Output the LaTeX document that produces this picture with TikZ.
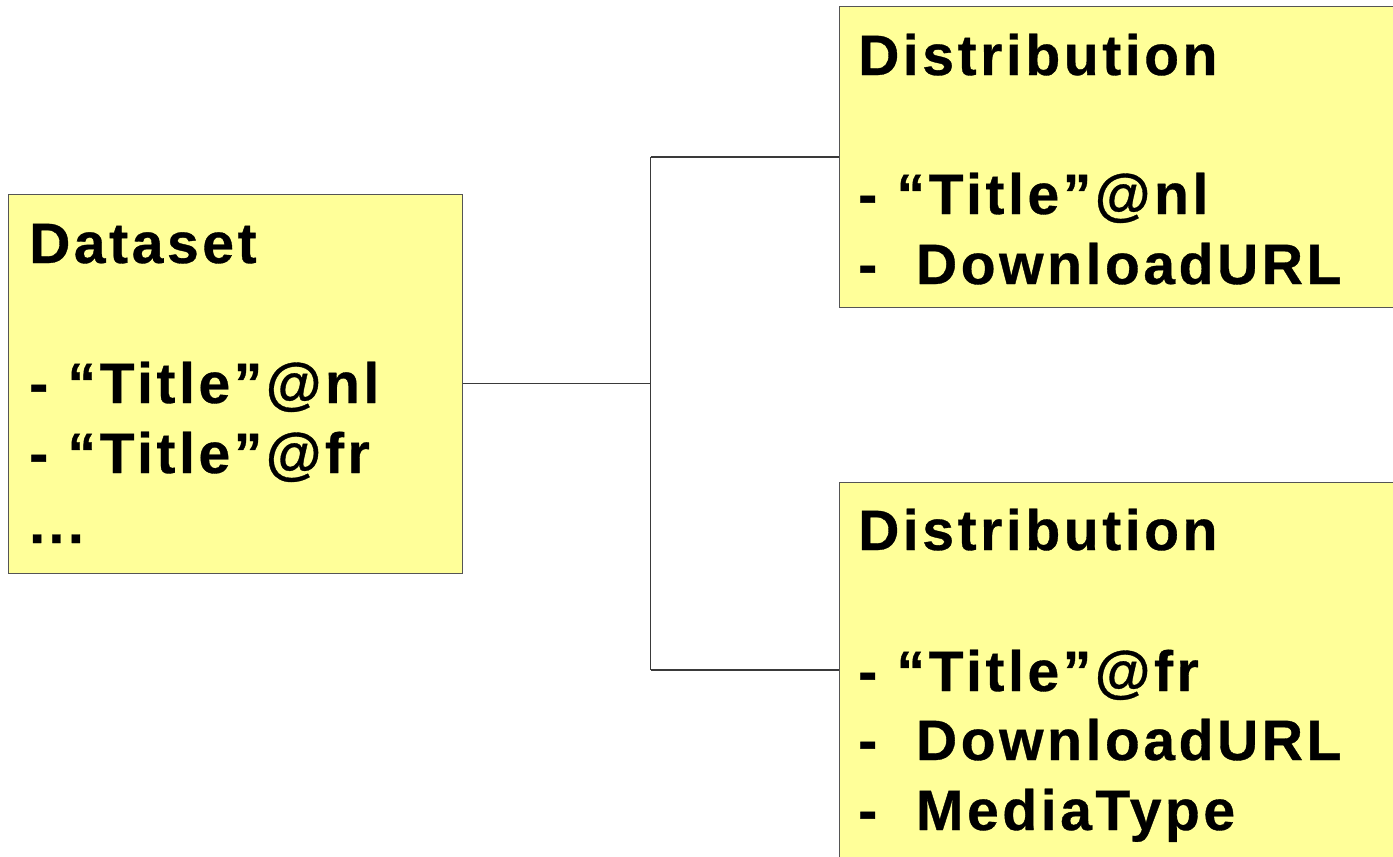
\documentclass[tikz,border=0pt]{standalone}
\usepackage{fontspec}
\newfontfamily\boxfont{Liberation Sans Bold}[LetterSpace=6.3, FakeBold=0.6]
\definecolor{boxfill}{HTML}{FFFF99}
\definecolor{boxline}{HTML}{555555}
\definecolor{linkcol}{HTML}{3A3A3A}
\begin{document}
\begin{tikzpicture}[x=1pt,y=-1pt,
  box/.style={draw=boxline, fill=boxfill, line width=1pt, anchor=north west, inner sep=0pt},
  lbl/.style={anchor=base west, inner sep=0pt, font=\boxfont\fontsize{57}{70}\selectfont},
  link/.style={draw=linkcol, line width=1.2pt}]
\useasboundingbox (0,0) rectangle (1393,857);
% boxes
\node[box, minimum width=453.5pt, minimum height=378.5pt] (ds) at (8,194) {};
\node[box, minimum width=600pt, minimum height=301.5pt] (d1) at (838.5,5.5) {};
\node[box, minimum width=600pt, minimum height=420pt] (d2) at (838.5,482) {};
% texts
\node[lbl] (dsA) at (29,263) {Dataset};
\node[lbl] (dsB) at (29,403) {- “Title”@nl};
\node[lbl] (dsC) at (29,473) {- “Title”@fr};
\node[lbl] (dsD) at (29,543) {...};
\node[lbl] (d1A) at (858,75) {Distribution};
\node[lbl] (d1B) at (858,214) {- “Title”@nl};
\node[lbl] (d1C) at (858,284) {-~~DownloadURL};
\node[lbl] (d2A) at (858,550) {Distribution};
\node[lbl] (d2B) at (858,691) {- “Title”@fr};
\node[lbl] (d2C) at (858,760) {-~~DownloadURL};
\node[lbl] (d2D) at (858,830) {-~~MediaType};
% connectors
\coordinate (jt) at (650.5,157);
\coordinate (jb) at (650.5,670);
\draw[link] (ds.east) -- (ds.east -| jt);
\draw[link] (jt) -- (jb);
\draw[link] (jt) -- (jt -| d1.west);
\draw[link] (jb) -- (jb -| d2.west);
\end{tikzpicture}
\end{document}
